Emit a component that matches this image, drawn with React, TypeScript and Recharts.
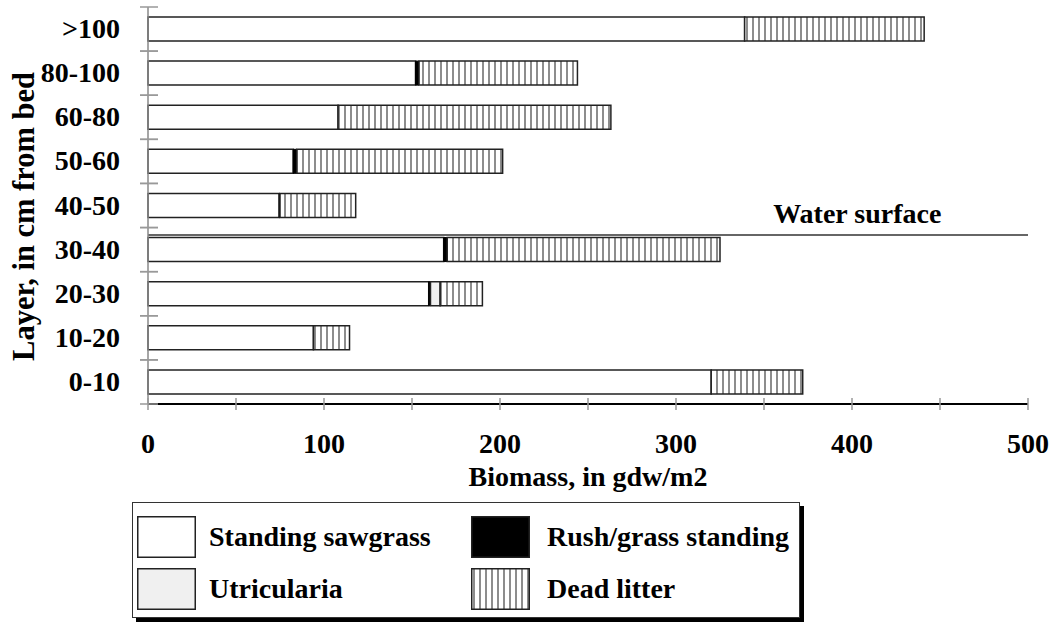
import React from 'react';
import { BarChart, Bar, XAxis, YAxis, ReferenceLine, Legend } from 'recharts';

const layers = ['>100', '80-100', '60-80', '50-60', '40-50', '30-40', '20-30', '10-20', '0-10'];
const sawgrass = [339, 152, 108, 82.5, 74.5, 168, 159.5, 94, 320];
const rush = [0, 2, 0, 2, 0.5, 2, 1, 0, 0];
const utricularia = [0, 0, 0, 0, 0, 0, 5.5, 0, 0];
const litter = [102, 90, 155, 117, 43, 155, 24, 20.5, 52];
const xTicks = [0, 50, 100, 150, 200, 250, 300, 350, 400, 450, 500];
const xLabelTicks = [0, 100, 200, 300, 400, 500];
const waterLayer = '30-40';
const waterDepthInLayer = 0.17; // fraction of the layer band below its top edge
const seriesLabels = ['Standing sawgrass', 'Rush/grass standing', 'Utricularia', 'Dead litter'];

const data = layers.map((layer, i) => ({
  layer,
  sawgrass: sawgrass[i],
  rush: rush[i],
  utricularia: utricularia[i],
  litter: litter[i],
}));

const FONT = '"Liberation Serif", "Times New Roman", serif';
const PLOT_H = 397;
const BAND = PLOT_H / layers.length;

const YTick = (props: any) => {
  const { x, y, payload } = props;
  const half = BAND / 2;
  return (
    <g>
      <line x1={x - 8} x2={x + 10} y1={y - half} y2={y - half} stroke="#999" strokeWidth={1.5} />
      <line x1={x - 8} x2={x + 10} y1={y + half} y2={y + half} stroke="#999" strokeWidth={1.5} />
      <text x={x - 28} y={y + 9} textAnchor="end" fontFamily={FONT} fontWeight="bold" fontSize={28} fill="#000">
        {payload.value}
      </text>
    </g>
  );
};

const XTick = (props: any) => {
  const { x, y, payload } = props;
  return (
    <g>
      <line x1={x} x2={x} y1={y - 6} y2={y + 6} stroke="#999" strokeWidth={1.5} />
      {xLabelTicks.includes(payload.value) && (
        <text x={x} y={y + 49} textAnchor="middle" fontFamily={FONT} fontWeight="bold" fontSize={28} fill="#000">
          {payload.value}
        </text>
      )}
    </g>
  );
};

const WaterShape = (props: any) => {
  const { x1, x2, y1 } = props;
  const y = y1 - BAND / 2 + waterDepthInLayer * BAND;
  return (
    <g>
      <line x1={x1} x2={x2} y1={y} y2={y} stroke="#333" strokeWidth={1.5} />
      <text
        x={x1 + (x2 - x1) * 0.806}
        y={y - 12}
        textAnchor="middle"
        fontFamily={FONT}
        fontWeight="bold"
        fontSize={28}
        fill="#000"
      >
        Water surface
      </text>
    </g>
  );
};

const YTitle = (props: any) => {
  const vb = props.viewBox || {};
  const cx = vb.x + 16;
  const cy = vb.y + vb.height / 2 + 11;
  return (
    <text
      x={cx}
      y={cy}
      transform={`rotate(-90 ${cx} ${cy})`}
      textAnchor="middle"
      dominantBaseline="central"
      fontFamily={FONT}
      fontWeight="bold"
      fontSize={30.5}
      fill="#000"
    >
      Layer, in cm from bed
    </text>
  );
};

const XTitle = (props: any) => {
  const vb = props.viewBox || {};
  return (
    <text
      x={vb.x + vb.width / 2}
      y={vb.y + 82}
      textAnchor="middle"
      fontFamily={FONT}
      fontWeight="bold"
      fontSize={28}
      fill="#000"
    >
      Biomass, in gdw/m2
    </text>
  );
};

const Swatch = ({ kind }: { kind: number }) => {
  const fills = ['#ffffff', '#000000', '#f0f0f0', 'url(#litterPattern)'];
  return (
    <svg width={59} height={42} style={{ display: 'block' }}>
      <rect x={0.75} y={0.75} width={57.5} height={40.5} fill={fills[kind]} stroke="#222" strokeWidth={1.5} />
    </svg>
  );
};

const LegendBox = () => {
  const items = [
    { kind: 0, left: 4, top: 13, tx: 76 },
    { kind: 1, left: 338, top: 13, tx: 414 },
    { kind: 2, left: 4, top: 65, tx: 76 },
    { kind: 3, left: 338, top: 65, tx: 414 },
  ];
  return (
    <div
      style={{
        position: 'relative',
        width: 668,
        height: 116,
        border: '1.5px solid #333',
        boxShadow: '4px 4px 0 #000',
        background: '#fff',
        boxSizing: 'border-box',
        fontFamily: FONT,
        fontWeight: 'bold',
        fontSize: 28,
        color: '#000',
      }}
    >
      {items.map((it) => (
        <React.Fragment key={it.kind}>
          <div style={{ position: 'absolute', left: it.left, top: it.top }}>
            <Swatch kind={it.kind} />
          </div>
          <div style={{ position: 'absolute', left: it.tx, top: it.top, lineHeight: '42px', whiteSpace: 'nowrap' }}>
            {seriesLabels[it.kind]}
          </div>
        </React.Fragment>
      ))}
    </div>
  );
};

export default function App() {
  return (
    <div style={{ position: 'absolute', left: 0, top: 0, width: 1054, height: 622, background: '#fff' }}>
      <BarChart
        width={1054}
        height={622}
        data={data}
        layout="vertical"
        margin={{ top: 7, right: 26, left: 8, bottom: 138 }}
        barSize={24}
      >
        <defs>
          <pattern id="litterPattern" patternUnits="userSpaceOnUse" width={6} height={6}>
            <rect x={0} y={0} width={6} height={6} fill="#fff" />
            <line x1={3} x2={3} y1={0} y2={6} stroke="#707070" strokeWidth={1.6} />
          </pattern>
        </defs>
        <XAxis
          type="number"
          domain={[0, 500]}
          ticks={xTicks}
          interval={0}
          tickLine={false}
          tickSize={0}
          tickMargin={0}
          tick={<XTick />}
          axisLine={{ stroke: '#000', strokeWidth: 2 }}
          height={80}
          label={<XTitle />}
        />
        <XAxis
          xAxisId="top"
          orientation="top"
          type="number"
          domain={[0, 500]}
          height={0}
          tick={false}
          tickLine={false}
          axisLine={{ stroke: '#666', strokeWidth: 1.5 }}
        />
        <YAxis
          type="category"
          dataKey="layer"
          width={140}
          interval={0}
          tickLine={false}
          tickSize={0}
          tickMargin={0}
          tick={<YTick />}
          axisLine={{ stroke: '#888', strokeWidth: 1.5 }}
          label={<YTitle />}
        />
        <YAxis
          yAxisId="right"
          orientation="right"
          type="category"
          dataKey="layer"
          width={0}
          tick={false}
          tickLine={false}
          axisLine={{ stroke: '#000', strokeWidth: 2 }}
        />
        <Legend
          layout="horizontal"
          verticalAlign="middle"
          align="center"
          wrapperStyle={{ left: 132, top: 502, width: 676, height: 122 }}
          content={<LegendBox />}
        />
        <Bar dataKey="sawgrass" name={seriesLabels[0]} stackId="a" fill="#ffffff" stroke="#222" strokeWidth={1.5} isAnimationActive={false} />
        <Bar dataKey="rush" name={seriesLabels[1]} stackId="a" fill="#000000" stroke="#000" strokeWidth={1} isAnimationActive={false} />
        <Bar dataKey="utricularia" name={seriesLabels[2]} stackId="a" fill="#f0f0f0" stroke="#222" strokeWidth={1.5} isAnimationActive={false} />
        <Bar dataKey="litter" name={seriesLabels[3]} stackId="a" fill="url(#litterPattern)" stroke="#222" strokeWidth={1.5} isAnimationActive={false} />
        <ReferenceLine y={waterLayer} shape={<WaterShape />} />
      </BarChart>
    </div>
  );
}
